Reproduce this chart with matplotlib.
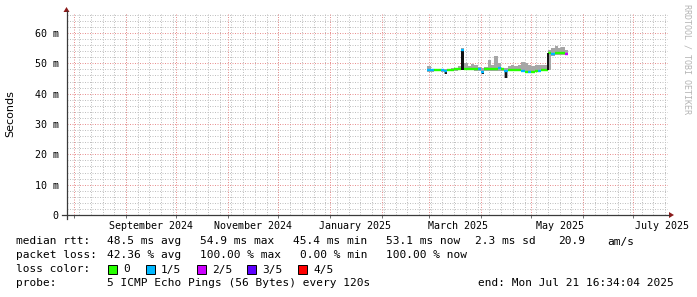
import matplotlib
matplotlib.use('Agg')
import matplotlib.pyplot as plt
from matplotlib.lines import Line2D
from matplotlib.patches import Polygon, Rectangle
from matplotlib.ticker import FuncFormatter
from datetime import datetime, timedelta

# data: 2-day buckets starting 2025-02-28 (milliseconds)
start = datetime(2025, 2, 28)
median_ms = [47.7, 47.7, 47.8, 47.8, 47.7, 47.6, 47.9, 47.9, 48.1, 48.2,
             54.5, 48.2, 48.2, 48.1, 48.0, 48.0, 47.3, 48.0, 48.0, 48.0,
             48.3, 48.5, 48.0, 47.4, 47.9, 47.9, 47.9, 47.8, 47.4, 47.3,
             47.3, 47.3, 47.5, 47.5, 47.9, 47.9, 53.4, 53.2, 53.4, 53.3,
             53.4, 53.1]
loss = [1, 1, 0, 0, 1, 1, 0, 0, 0, 0,
        1, 0, 0, 0, 0, 1, 1, 0, 0, 0,
        0, 1, 0, 1, 0, 0, 0, 0, 1, 0,
        1, 0, 0, 1, 0, 0, 0, 1, 0, 0,
        0, 2]
smoke_lo = [47.3, 47.3, 47.4, 47.4, 47.3, 46.5, 47.5, 47.5, 47.6, 47.7,
            47.9, 47.8, 47.8, 47.7, 47.6, 47.6, 46.4, 47.6, 47.6, 47.6,
            47.6, 47.4, 47.6, 45.2, 47.5, 47.5, 47.5, 47.4, 47.0, 46.9,
            46.9, 46.9, 47.0, 47.1, 47.5, 47.5, 47.9, 52.5, 52.8, 52.7,
            52.8, 52.8]
smoke_hi = [49.0, 48.2, 48.3, 48.3, 48.2, 48.2, 48.3, 48.4, 48.6, 49.0,
            55.2, 50.1, 49.0, 49.8, 49.4, 48.8, 48.6, 48.8, 51.0, 49.5,
            52.3, 50.2, 48.6, 48.4, 49.2, 49.3, 49.0, 49.6, 50.3, 50.0,
            49.4, 49.2, 49.6, 49.6, 49.4, 49.5, 54.5, 55.0, 55.6, 55.2,
            55.4, 54.5]
# 0 none, 1 thin dark stroke, 2 dark block over the whole bucket
dark = [0, 0, 0, 0, 0, 1, 0, 0, 0, 0,
        2, 0, 0, 0, 0, 0, 1, 0, 0, 0,
        0, 0, 0, 1, 0, 0, 0, 0, 0, 0,
        0, 0, 0, 0, 0, 0, 1, 0, 0, 0,
        0, 0]

loss_labels = ['0', '1/5', '2/5', '3/5', '4/5']
loss_colors = ['#26ff00', '#00b8ff', '#cc00ff', '#5e00ff', '#ff0000']

label_dates = [datetime(2024, 9, 16), datetime(2024, 11, 16), datetime(2025, 1, 16),
               datetime(2025, 3, 18), datetime(2025, 5, 18), datetime(2025, 7, 18)]
label_text = ['September 2024', 'November 2024', 'January 2025',
              'March 2025', 'May 2025', 'July 2025']

W, H = 697, 297
mono = 'DejaVu Sans Mono'

def fx(x):
    return x / W

def fy(y):
    return 1 - y / H

fig = plt.figure(figsize=(W / 100, H / 100), dpi=100)
fig.patch.set_facecolor('white')
ax = fig.add_axes([fx(67), fy(215), 601 / W, (215 - 13) / H])
ax.set_facecolor('white')

t0 = datetime(2024, 7, 27, 19, 0)
t1 = datetime(2025, 7, 21, 16, 34)
ax.set_xlim(t0, t1)
ax.set_ylim(0, 0.0666)

# dotted grid, 1px dots
gkw = dict(lw=0.72, ls=(0, (1, 1.5)), snap=True)
d = datetime(2024, 7, 28)
while d < t1:
    ax.axvline(d, color='#c0c0c0', zorder=0, **gkw)
    d += timedelta(days=7)
for v in range(2, 67, 2):
    if v % 10:
        ax.axhline(v / 1000, color='#c0c0c0', zorder=0, **gkw)
months = [datetime(2024 + (7 + k) // 12, (7 + k) % 12 + 1, 1) for k in range(12)]
for m in months:
    ax.axvline(m, color='#e89090', zorder=0.5, **gkw)
for v in range(10, 61, 10):
    ax.axhline(v / 1000, color='#e89090', zorder=0.5, **gkw)

# smoke
n = len(median_ms)
t = [start + timedelta(days=2 * i) for i in range(n + 1)]
lo = [v / 1000 for v in smoke_lo] + [smoke_lo[-1] / 1000]
hi = [v / 1000 for v in smoke_hi] + [smoke_hi[-1] / 1000]
ax.fill_between(t, lo, hi, step='post', color='#a6a6a6', lw=0, zorder=1)
for i in range(n):
    if dark[i] == 2:
        ax.fill_between([t[i], t[i + 1]], smoke_lo[i] / 1000, median_ms[i] / 1000,
                        color='#111111', lw=0, zorder=2)
    elif dark[i] == 1:
        ax.vlines(t[i] + timedelta(days=1) if i != 36 else t[i],
                  min(smoke_lo[i], median_ms[i]) / 1000, median_ms[i] / 1000,
                  color='#111111', lw=1.4, zorder=4 if i == 36 else 2)

# median coloured by loss
ax.hlines([v / 1000 for v in median_ms], t[:-1], t[1:],
          colors=[loss_colors[k] for k in loss], lw=1.7, zorder=3)

for s in ax.spines.values():
    s.set_visible(False)

ax.set_xticks(label_dates)
ax.set_xticklabels(label_text)
ax.set_xticks(months, minor=True)
ax.tick_params(axis='x', which='major', length=0, pad=4, labelsize=7.2)
ax.tick_params(axis='x', which='minor', length=2.5, width=0.6, color='#555555')
for lab in ax.get_xticklabels():
    lab.set_fontfamily(mono)
ax.set_yticks([v / 1000 for v in range(0, 61, 10)])
ax.yaxis.set_major_formatter(FuncFormatter(lambda v, p: '0' if v == 0 else '%d m' % round(v * 1000)))
ax.tick_params(axis='y', length=0, pad=6, labelsize=7.2)
for lab in ax.get_yticklabels():
    lab.set_fontfamily(mono)

# axes with arrows
axc = '#3a3a3a'
arrow = '#8b1a1a'
fig.add_artist(Line2D([fx(66.5), fx(66.5)], [fy(219), fy(11)], color=axc, lw=0.9))
fig.add_artist(Line2D([fx(62), fx(669)], [fy(215), fy(215)], color=axc, lw=0.9))
fig.add_artist(Polygon([[fx(63.5), fy(12)], [fx(69.5), fy(12)], [fx(66.5), fy(7)]],
                       closed=True, color=arrow, lw=0))
fig.add_artist(Polygon([[fx(669), fy(212)], [fx(669), fy(218)], [fx(674), fy(215)]],
                       closed=True, color=arrow, lw=0))

fig.text(fx(10.5), fy(113.5), 'Seconds', rotation=90, ha='center', va='center',
         fontsize=8, family='DejaVu Sans')
fig.text(fx(686.5), fy(59), 'RRDTOOL / TOBI OETIKER', rotation=270, ha='center',
         va='center', fontsize=6, family=mono, color='#b4b4b4')

# legend block
fs = 8
rows = [
    (241.5, [(16, 'median rtt:'), (107, '48.5 ms avg'), (200, '54.9 ms max'),
             (293, '45.4 ms min'), (386, '53.1 ms now'), (475, '2.3 ms sd'),
             (558, '20.9'), (607, 'am/s')]),
    (255.5, [(16, 'packet loss:'), (107, '42.36 % avg'), (200, '100.00 % max'),
             (300, '0.00 % min'), (386, '100.00 % now')]),
    (269.5, [(16, 'loss color:')]),
    (283.5, [(16, 'probe:'), (107, '5 ICMP Echo Pings (56 Bytes) every 120s'),
             (478, 'end: Mon Jul 21 16:34:04 2025')]),
]
for y, items in rows:
    for x, s in items:
        fig.text(fx(x), fy(y), s, ha='left', va='center', fontsize=fs, family=mono)

box_x = [108, 146, 197, 247, 298]
for bx, c, lab in zip(box_x, loss_colors, loss_labels):
    fig.add_artist(Rectangle((fx(bx), fy(274)), 9 / W, 9 / H, facecolor=c,
                             edgecolor='black', lw=0.7, transform=fig.transFigure))
    fig.text(fx(bx + 15), fy(269.5), lab, ha='left', va='center', fontsize=fs, family=mono)

fig.savefig('out.png', dpi=100)
